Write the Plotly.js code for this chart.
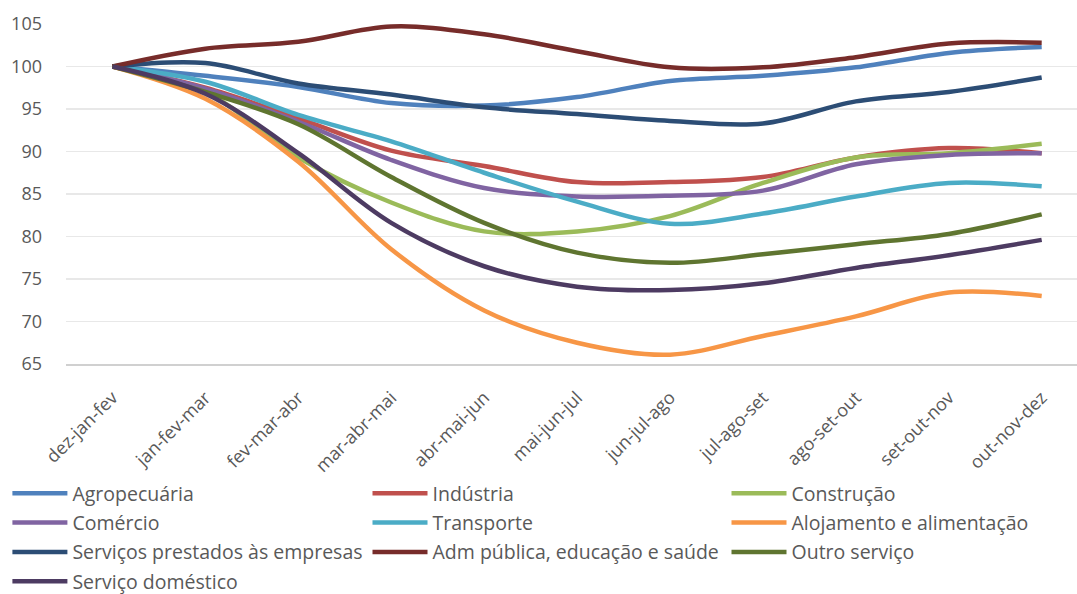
<!DOCTYPE html>
<html>
<head>
<meta charset="utf-8">
<script src="https://cdn.plot.ly/plotly-3.0.1.min.js"></script>
<style>
  html, body { margin: 0; padding: 0; background: #ffffff; }
  #chart { width: 1077px; height: 594px; }
</style>
</head>
<body>
<div id="chart"></div>
<script>
// Rolling quarter labels
const periods = ['dez-jan-fev', 'jan-fev-mar', 'fev-mar-abr', 'mar-abr-mai', 'abr-mai-jun',
  'mai-jun-jul', 'jun-jul-ago', 'jul-ago-set', 'ago-set-out', 'set-out-nov', 'out-nov-dez'];

// Index by sector (dez-jan-fev = 100)
const agropecuaria   = [100, 98.9, 97.6, 95.7, 95.4, 96.4, 98.3, 98.9, 99.9, 101.6, 102.3];
const industria      = [100, 97.5, 93.9, 90.1, 88.3, 86.4, 86.4, 87.0, 89.3, 90.4, 89.8];
const construcao     = [100, 97.0, 89.3, 84.0, 80.6, 80.6, 82.4, 86.3, 89.3, 89.8, 90.9];
const comercio       = [100, 97.4, 93.5, 89.0, 85.7, 84.7, 84.8, 85.4, 88.5, 89.6, 89.8];
const transporte     = [100, 98.2, 94.3, 91.2, 87.5, 84.1, 81.5, 82.7, 84.7, 86.3, 85.9];
const alojamento     = [100, 96.2, 88.8, 78.5, 71.3, 67.5, 66.1, 68.3, 70.6, 73.4, 73.0];
const servEmpresas   = [100, 100.4, 98.0, 96.7, 95.2, 94.4, 93.6, 93.3, 95.9, 97.0, 98.7];
const admPublica     = [100, 102.1, 102.9, 104.7, 103.8, 101.8, 99.9, 99.9, 101.1, 102.7, 102.8];
const outroServico   = [100, 97.0, 93.2, 87.0, 81.6, 78.1, 76.9, 77.9, 79.1, 80.3, 82.6];
const servDomestico  = [100, 96.8, 89.8, 81.6, 76.5, 74.1, 73.7, 74.5, 76.3, 77.8, 79.6];

const names = ['Agropecuária', 'Indústria', 'Construção', 'Comércio', 'Transporte',
  'Alojamento e alimentação', 'Serviços prestados às empresas',
  'Adm pública, educação e saúde', 'Outro serviço', 'Serviço doméstico'];
const series = [agropecuaria, industria, construcao, comercio, transporte,
  alojamento, servEmpresas, admPublica, outroServico, servDomestico];
const colors = ['#4F81BD', '#C0504D', '#9BBB59', '#8064A2', '#4BACC6',
  '#F79646', '#2C4D75', '#772C2A', '#5F7530', '#4D3B62'];

// Legend laid out as three columns, filled row by row
const legendIds = ['legend', 'legend2', 'legend3'];

const traces = series.map((vals, i) => ({
  type: 'scatter',
  mode: 'lines',
  name: names[i],
  x: periods,
  y: vals,
  line: { color: colors[i], width: 4.5, shape: 'spline', smoothing: 1 },
  cliponaxis: false,
  legend: legendIds[i % 3],
  legendgroup: 'g' + i,
  hoverinfo: 'x+y+name'
}));

const textColor = '#595959';
const fontFamily = '"Open Sans", "Liberation Sans", sans-serif';

function column(xPx) {
  return {
    orientation: 'v',
    xref: 'container',
    yref: 'container',
    x: xPx / 1077,
    xanchor: 'left',
    y: 1 - 474 / 594,
    yanchor: 'top',
    font: { size: 19.5, color: textColor },
    itemwidth: 55,
    tracegroupgap: 1,
    borderwidth: 0,
    bgcolor: 'rgba(0,0,0,0)'
  };
}

const layout = {
  width: 1077,
  height: 594,
  margin: { l: 66, r: 0, t: 24, b: 230, pad: 0, autoexpand: false },
  paper_bgcolor: '#ffffff',
  plot_bgcolor: '#ffffff',
  font: { family: fontFamily, size: 17, color: textColor },
  showlegend: true,
  xaxis: {
    type: 'category',
    range: [-0.5, 10.38],
    tickangle: -45,
    tickfont: { size: 18, color: textColor },
    showgrid: false,
    zeroline: false,
    showline: true,
    linecolor: '#D0D0D0',
    linewidth: 2,
    ticks: '',
    ticklabelstandoff: 14,
    automargin: false,
    fixedrange: true
  },
  yaxis: {
    range: [65, 105],
    tickvals: [65, 70, 75, 80, 85, 90, 95, 100, 105],
    tickfont: { size: 18, color: textColor },
    showgrid: true,
    gridcolor: '#E8E8E8',
    gridwidth: 1.5,
    zeroline: false,
    showline: false,
    ticks: '',
    ticklabelstandoff: 23,
    automargin: false,
    fixedrange: true
  },
  legend: column(7.4),
  legend2: column(367.5),
  legend3: column(726.5)
};

Plotly.newPlot('chart', traces, layout, { displayModeBar: false, staticPlot: true });
</script>
</body>
</html>
